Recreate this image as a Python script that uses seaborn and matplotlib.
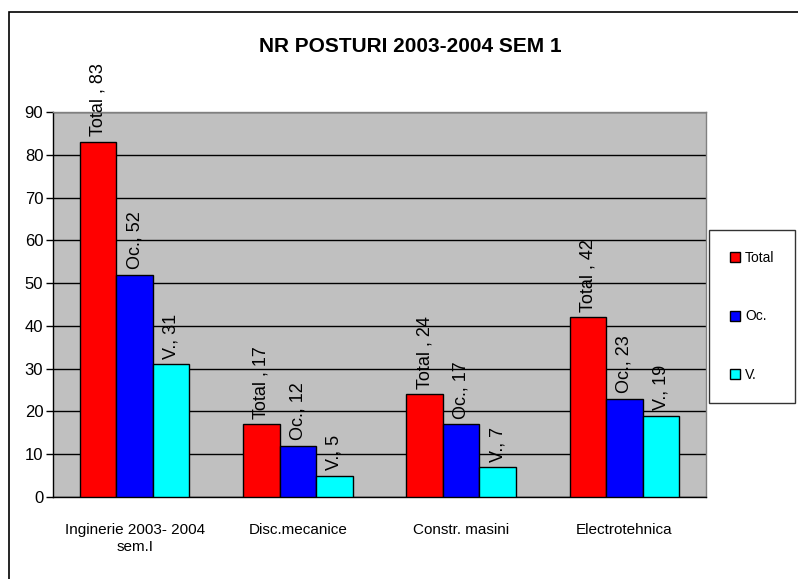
import pandas as pd
import matplotlib.pyplot as plt
import seaborn as sns
from matplotlib.lines import Line2D
from matplotlib.patches import Rectangle

# === Data ===
categories = ["Inginerie 2003- 2004\nsem.I", "Disc.mecanice", "Constr. masini", "Electrotehnica"]
series = ["Total", "Oc.", "V."]
total = [83, 17, 24, 42]
ocupate = [52, 12, 17, 23]
vacante = [31, 5, 7, 19]
label_prefix = ["Total , ", "Oc., ", "V., "]
colors = ["#FF0000", "#0000FF", "#00FFFF"]

df = pd.DataFrame({
    "cat": categories * 3,
    "serie": [s for s in series for _ in categories],
    "val": total + ocupate + vacante,
})

# === Figure ===
sns.set_style("white")
plt.rcParams["font.family"] = ["Liberation Sans", "DejaVu Sans"]
plt.rcParams["text.color"] = "black"
plt.rcParams["xtick.color"] = "black"
plt.rcParams["ytick.color"] = "black"
plt.rcParams["xtick.labelcolor"] = "black"
plt.rcParams["ytick.labelcolor"] = "black"
fig = plt.figure(figsize=(7.98, 5.79), dpi=100)
ax = fig.add_axes([53 / 798, 82 / 579, 653 / 798, 385 / 579])
ax.set_facecolor("#C0C0C0")

sns.barplot(data=df, x="cat", y="val", hue="serie", palette=colors,
            width=0.67, edgecolor="black", linewidth=1, saturation=1,
            ax=ax, legend=False, zorder=3)

ax.set_ylim(0, 90)
ax.set_xlim(-0.5, 3.5)
ax.set_yticks(range(0, 91, 10))
ax.yaxis.grid(True, color="black", linewidth=1, zorder=0)
ax.set_axisbelow(True)
ax.set_xlabel("")
ax.set_ylabel("")

# category boundaries as ticks
ax.set_xticks([-0.5, 0.5, 1.5, 2.5, 3.5], minor=True)
ax.tick_params(axis="x", which="major", length=0, labelsize=11, pad=19)
ax.tick_params(axis="x", which="minor", length=7, direction="out", color="black", width=1)
ax.tick_params(axis="y", length=5, direction="out", color="black", width=1, labelsize=12, pad=2, left=True)

for s in ["top", "right"]:
    ax.spines[s].set_color("#808080")
ax.spines["left"].set_color("black")
ax.spines["bottom"].set_color("black")
for s in ax.spines.values():
    s.set_linewidth(1)

# value labels
vals = [total, ocupate, vacante]
for cont, pre, v in zip(ax.containers, label_prefix, vals):
    ax.bar_label(cont, labels=[pre + str(x) for x in v], rotation=90,
                 padding=4, fontsize=13, color="black", clip_on=False)

# title
fig.text(410 / 798, 1 - 47 / 579, "NR POSTURI 2003-2004 SEM 1", ha="center", va="center",
         fontsize=15, fontweight="bold", color="black")

# legend
handles = [Line2D([0], [0], marker="s", linestyle="none", markersize=7,
                  markerfacecolor=c, markeredgecolor="black", markeredgewidth=1) for c in colors]
leg = ax.legend(handles, series, loc="upper left",
                bbox_to_anchor=(709 / 798, 1 - 236 / 579, 0.2, 0.01),
                bbox_transform=fig.transFigure, fontsize=10, frameon=True,
                fancybox=False, edgecolor="black", labelspacing=3.2,
                borderpad=1.5, handlelength=0.8, handletextpad=0.3,
                borderaxespad=0)
leg.get_frame().set_linewidth(1)
for t in leg.get_texts():
    t.set_color("black")

# outer chart border
fig.patches.append(Rectangle((9 / 798, -0.1), 1.2, 1.1 - 12 / 579, transform=fig.transFigure,
                             fill=False, edgecolor="black", linewidth=1.2))

plt.savefig("out.png", dpi=100)
